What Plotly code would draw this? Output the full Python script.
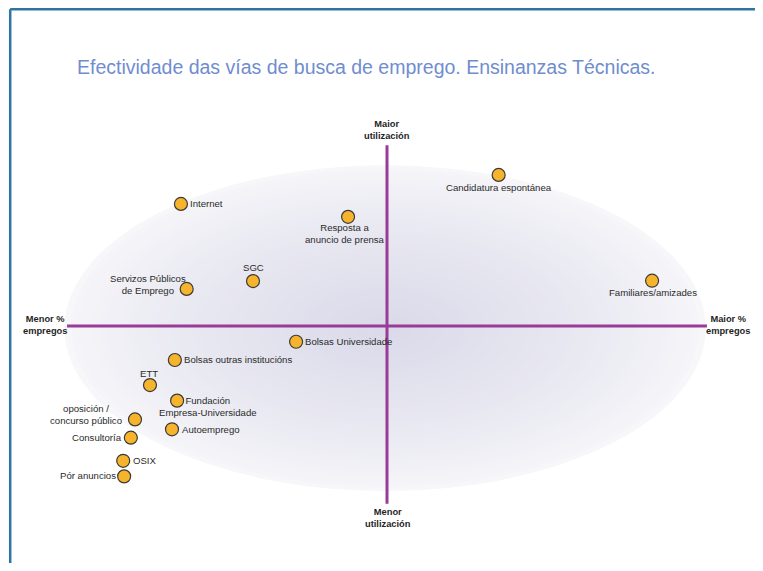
import plotly.graph_objects as go

# ---- data (relative scale: % empregos on x, utilización on y; axes cross at 0) ----
names = [
    "Internet", "Resposta a<br>anuncio de prensa", "Candidatura espontánea", "SGC",
    "Servizos Públicos<br>de Emprego", "Familiares/amizades", "Bolsas Universidade",
    "Bolsas outras institucións", "ETT", "Fundación<br>Empresa-Universidade",
    "oposición /<br>concurso público", "Autoemprego", "Consultoría", "OSIX", "Pór anuncios",
]
empregos = [-64.6, -12.2, 35.0, -42.0, -62.8, 83.1, -28.5, -66.5, -74.3, -65.8,
            -79.0, -67.4, -80.3, -82.7, -82.4]
utilizacion = [68.2, 61.0, 84.4, 25.1, 20.7, 25.3, -8.8, -19.0, -33.0, -41.7,
               -52.2, -57.7, -62.4, -75.3, -84.0]

axis_labels = {
    "left": "Menor %<br>empregos",
    "right": "Maior %<br>empregos",
    "top": "Maior<br>utilización",
    "bottom": "Menor<br>utilización",
}
title_text = "Efectividade das vías de busca de emprego. Ensinanzas Técnicas."

# ---- label placement (style): xanchor, align, xshift, yshift in px ----
place = {
    "Internet": ("left", "left", 7, 0),
    "Resposta a<br>anuncio de prensa": ("center", "center", -3, -17),
    "Candidatura espontánea": ("center", "center", 0, -13),
    "SGC": ("center", "center", 0, 14),
    "Servizos Públicos<br>de Emprego": ("center", "center", -39, 4),
    "Familiares/amizades": ("center", "center", 1, -12),
    "Bolsas Universidade": ("left", "left", 7, 0),
    "Bolsas outras institucións": ("left", "left", 7, 1),
    "ETT": ("center", "center", -1, 12),
    "Fundación<br>Empresa-Universidade": ("center", "center", 31, -6),
    "oposición /<br>concurso público": ("center", "center", -49, 5),
    "Autoemprego": ("left", "left", 8, 0),
    "Consultoría": ("right", "right", -7, 0),
    "OSIX": ("left", "left", 8, 0),
    "Pór anuncios": ("right", "right", -6, 1),
}

# pixel geometry helpers (layout only); page body has an 8px margin
OFF = 8
W, H = 763 - 2 * OFF, 571 - 2 * OFF
CX, CY = 387 - OFF, 326 - OFF   # px position of the axes crossing
SX, SY = 3.19, 1.79             # px per unit
xr = [(0 - CX) / SX, (W - CX) / SX]
yr = [(CY - H) / SY, (CY - 0) / SY]

PURPLE = "#9a3b98"
LABEL_FONT = dict(family="Liberation Sans, Arial, sans-serif", size=9.6, color="#2b2b2b")
BOLD_FONT = dict(family="Liberation Sans, Arial, sans-serif", size=9.3, color="#1f1f1f")

shapes = []
# radial-like gradient via stacked ellipses
N = 45
ecx, ecy = -0.6, -1.2
ax_, ay_ = 100.5, 91.0
edge = (247, 247, 250)
center = (218, 217, 233)
for k in range(N):
    s = 1 - k / N
    f = (1 - s) ** 0.75
    col = tuple(round(edge[i] + (center[i] - edge[i]) * f) for i in range(3))
    shapes.append(dict(type="circle", xref="x", yref="y", layer="below",
                       x0=ecx - ax_ * s, x1=ecx + ax_ * s,
                       y0=ecy - ay_ * s, y1=ecy + ay_ * s,
                       fillcolor="rgb(%d,%d,%d)" % col, line=dict(width=0)))
# quadrant axes
shapes.append(dict(type="line", xref="x", yref="y", x0=-100.3, x1=100.3, y0=0, y1=0,
                   line=dict(color=PURPLE, width=3), layer="below"))
shapes.append(dict(type="line", xref="x", yref="y", x0=0, x1=0, y0=-99.3, y1=101.0,
                   line=dict(color=PURPLE, width=3), layer="below"))
# frame lines (top and left)
fy = 1 - 1.2 / H
fx = 2.2 / W
shapes.append(dict(type="line", xref="paper", yref="paper", x0=fx, x1=1, y0=fy, y1=fy,
                   line=dict(color="#2d76a3", width=2.5)))
shapes.append(dict(type="line", xref="paper", yref="paper", x0=fx, x1=fx, y0=0, y1=fy,
                   line=dict(color="#2d76a3", width=2.5)))

fig = go.Figure()
fig.add_trace(go.Scatter(
    x=empregos, y=utilizacion, mode="markers", text=names, hoverinfo="text",
    marker=dict(size=13, color="#f6b42c", line=dict(color="#3a3a3a", width=1.2)),
    showlegend=False,
))

annotations = []
for nm, xv, yv in zip(names, empregos, utilizacion):
    xa, al, dx, dy = place[nm]
    annotations.append(dict(x=xv, y=yv, xref="x", yref="y", text=nm, showarrow=False,
                            xanchor=xa, yanchor="middle", align=al,
                            xshift=dx, yshift=dy, font=LABEL_FONT))

annotations += [
    dict(x=-100.3, y=0, xref="x", yref="y", text="<b>" + axis_labels["left"] + "</b>",
         showarrow=False, xanchor="right", yanchor="middle", align="center",
         xshift=2, yshift=1, font=BOLD_FONT),
    dict(x=100.3, y=0, xref="x", yref="y", text="<b>" + axis_labels["right"] + "</b>",
         showarrow=False, xanchor="left", yanchor="middle", align="center",
         xshift=-3, yshift=1, font=BOLD_FONT),
    dict(x=0, y=101.0, xref="x", yref="y", text="<b>" + axis_labels["top"] + "</b>",
         showarrow=False, xanchor="center", yanchor="bottom", align="center",
         xshift=0, yshift=2, font=BOLD_FONT),
    dict(x=0, y=-99.3, xref="x", yref="y", text="<b>" + axis_labels["bottom"] + "</b>",
         showarrow=False, xanchor="center", yanchor="top", align="center",
         xshift=1, yshift=-1, font=BOLD_FONT),
]

fig.update_layout(
    width=W, height=H,
    margin=dict(l=0, r=0, t=0, b=0),
    paper_bgcolor="white", plot_bgcolor="rgba(0,0,0,0)",
    title=dict(text=title_text, x=(77 - OFF) / W, xanchor="left", xref="paper",
               y=1 - (67 - OFF) / H, yanchor="middle", yref="paper",
               font=dict(family="Liberation Sans, Arial, sans-serif",
                         size=19.5, color="#6f8dcf")),
    xaxis=dict(range=xr, visible=False, fixedrange=True),
    yaxis=dict(range=yr, visible=False, fixedrange=True),
    shapes=shapes, annotations=annotations, hovermode="closest",
)

fig.write_html("out.html")
